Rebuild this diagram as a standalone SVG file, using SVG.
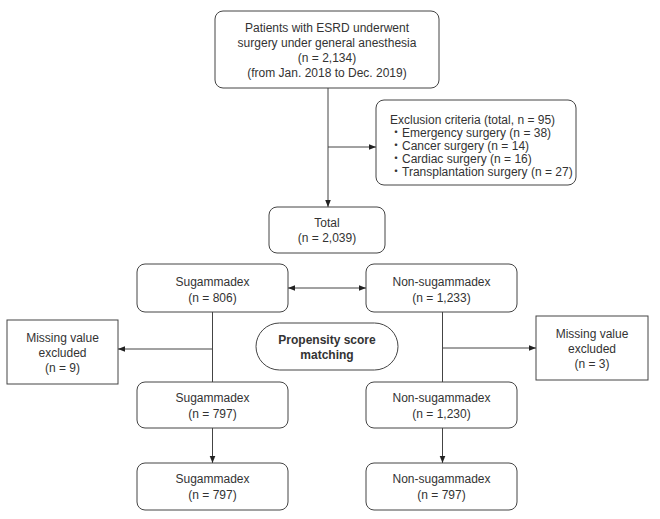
<svg xmlns="http://www.w3.org/2000/svg" width="660" height="519" viewBox="0 0 660 519">
<style>
.box{fill:#fff;stroke:#444;stroke-width:1}
.t{font-family:"Liberation Sans",Arial,sans-serif;font-size:12px;fill:#333;text-anchor:middle}
.tl{font-family:"Liberation Sans","Noto Sans CJK JP",Arial,sans-serif;font-size:12px;fill:#333}
.b{font-weight:bold}
.c{fill:none;stroke:#444;stroke-width:1}
</style>
<defs>
<marker id="ah" viewBox="0 0 10 10" refX="10" refY="5" markerWidth="7" markerHeight="7" orient="auto-start-reverse" markerUnits="userSpaceOnUse">
<path d="M0,1 L10,5 L0,9 Z" fill="#222"/>
</marker>
</defs>
<rect width="660" height="519" fill="#fff"/>
<g id="connectors">
<path class="c" d="M328,88 V207" marker-end="url(#ah)"/>
<path class="c" d="M328,147 H376" marker-end="url(#ah)"/>
<path class="c" d="M288,288 H366" marker-start="url(#ah)" marker-end="url(#ah)"/>
<path class="c" d="M212.5,312 V382"/>
<path class="c" d="M212.5,349 H118" marker-end="url(#ah)"/>
<path class="c" d="M442.5,312 V382"/>
<path class="c" d="M442.5,348 H536" marker-end="url(#ah)"/>
<path class="c" d="M212.5,428 V463" marker-end="url(#ah)"/>
<path class="c" d="M442.5,428 V463" marker-end="url(#ah)"/>
</g>
<g id="patients">
<rect class="box" x="215" y="11" width="224" height="77" rx="8"/>
<text class="t" x="327" y="32">Patients with ESRD underwent</text>
<text class="t" x="327" y="47">surgery under general anesthesia</text>
<text class="t" x="327" y="62">(n = 2,134)</text>
<text class="t" x="327" y="77">(from Jan. 2018 to Dec. 2019)</text>
</g>
<g id="exclusion">
<rect class="box" x="376" y="100" width="200" height="85" rx="8"/>
<text class="tl" x="390" y="124">Exclusion criteria (total, n = 95)</text>
<text class="tl" x="390" y="137">・Emergency surgery (n = 38)</text>
<text class="tl" x="390" y="150">・Cancer surgery (n = 14)</text>
<text class="tl" x="390" y="163">・Cardiac surgery (n = 16)</text>
<text class="tl" x="390" y="176">・Transplantation surgery (n = 27)</text>
</g>
<g id="total">
<rect class="box" x="269" y="207" width="116" height="46" rx="8"/>
<text class="t" x="327" y="227">Total</text>
<text class="t" x="327" y="242">(n = 2,039)</text>
</g>
<g id="sug1">
<rect class="box" x="137" y="264" width="151" height="48" rx="8"/>
<text class="t" x="212.5" y="286">Sugammadex</text>
<text class="t" x="212.5" y="302">(n = 806)</text>
</g>
<g id="nonsug1">
<rect class="box" x="366" y="264" width="151" height="48" rx="8"/>
<text class="t" x="441.5" y="286">Non-sugammadex</text>
<text class="t" x="441.5" y="302">(n = 1,233)</text>
</g>
<g id="missing-left">
<rect class="box" x="7" y="320" width="111" height="64"/>
<text class="t" x="62.5" y="342">Missing value</text>
<text class="t" x="62.5" y="357">excluded</text>
<text class="t" x="62.5" y="372">(n = 9)</text>
</g>
<g id="psm">
<rect class="box" x="256" y="323" width="142" height="47" rx="23.5"/>
<text class="t b" x="327" y="344">Propensity score</text>
<text class="t b" x="327" y="359">matching</text>
</g>
<g id="missing-right">
<rect class="box" x="536" y="316" width="112" height="64"/>
<text class="t" x="592" y="338">Missing value</text>
<text class="t" x="592" y="353">excluded</text>
<text class="t" x="592" y="368">(n = 3)</text>
</g>
<g id="sug2">
<rect class="box" x="137" y="382" width="151" height="46" rx="8"/>
<text class="t" x="212.5" y="402">Sugammadex</text>
<text class="t" x="212.5" y="418">(n = 797)</text>
</g>
<g id="nonsug2">
<rect class="box" x="366" y="382" width="151" height="46" rx="8"/>
<text class="t" x="441.5" y="402">Non-sugammadex</text>
<text class="t" x="441.5" y="418">(n = 1,230)</text>
</g>
<g id="sug3">
<rect class="box" x="137" y="463" width="151" height="47" rx="8"/>
<text class="t" x="212.5" y="483">Sugammadex</text>
<text class="t" x="212.5" y="499">(n = 797)</text>
</g>
<g id="nonsug3">
<rect class="box" x="366" y="463" width="151" height="47" rx="8"/>
<text class="t" x="441.5" y="483">Non-sugammadex</text>
<text class="t" x="441.5" y="499">(n = 797)</text>
</g>
</svg>
